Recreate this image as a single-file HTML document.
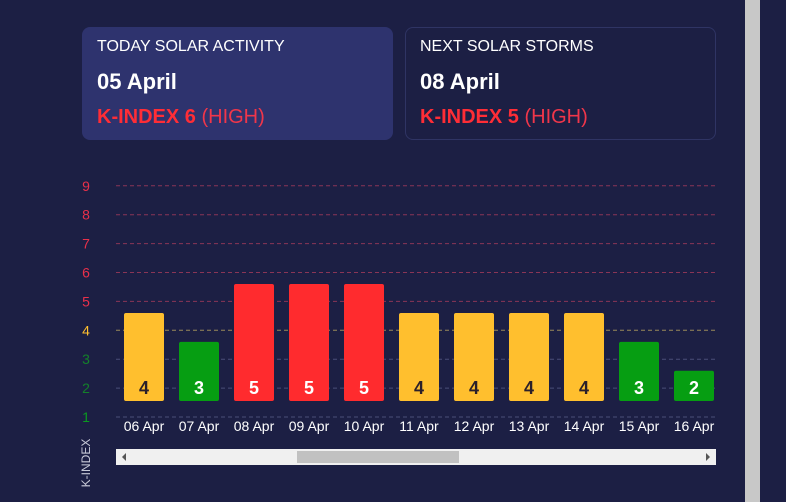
<!DOCTYPE html>
<html><head><meta charset="utf-8"><style>
body{margin:0;width:786px;height:502px;background:#1c1f44;font-family:"Liberation Sans",sans-serif;overflow:hidden;position:relative}
.card{position:absolute;top:27px;height:113px;width:311px;box-sizing:border-box;border-radius:8px;padding:10px 0 0 15px;color:#fff}
.t{font-size:16px;line-height:20px}
.d{font-size:22px;font-weight:bold;margin-top:12px;line-height:26px}
.k{font-size:20px;margin-top:10px;color:#ff2d36;line-height:24px}
.k b{color:#ff2d36}.k span{color:#f0364a}
</style></head><body>
<div class="card" style="left:82px;background:#2e336e">
<div class="t">TODAY SOLAR ACTIVITY</div>
<div class="d">05 April</div>
<div class="k"><b>K-INDEX 6</b> <span>(HIGH)</span></div>
</div>
<div class="card" style="left:405px;border:1px solid #2f3464;padding:9px 0 0 14px">
<div class="t">NEXT SOLAR STORMS</div>
<div class="d">08 April</div>
<div class="k"><b>K-INDEX 5</b> <span>(HIGH)</span></div>
</div>
<svg id="chart" width="786" height="502" style="position:absolute;left:0;top:0" font-family="Liberation Sans, sans-serif"></svg>
<div style="position:absolute;left:745px;top:0;width:15px;height:502px;background:#c8c8c8"></div>
<script>
const categories=["06 Apr","07 Apr","08 Apr","09 Apr","10 Apr","11 Apr","12 Apr","13 Apr","14 Apr","15 Apr","16 Apr"];
const values=[4,3,5,5,5,4,4,4,4,3,2];
const ticks=[1,2,3,4,5,6,7,8,9];
const svg=document.getElementById('chart');
const NS='http://www.w3.org/2000/svg';
function y(v){return 417-(v-1)*28.9;}
function x(i){return 144+i*55;}
function col(v){return v>=5?'#ff2b2e':v==4?'#ffbf2e':'#069e12';}
function mk(t,a){const e=document.createElementNS(NS,t);for(const k in a)e.setAttribute(k,a[k]);svg.appendChild(e);return e;}
ticks.forEach(t=>{
 const gc=t>=5?'#8a3556':t==4?'#9a8a5a':'#4a4f78';
 const g=mk('line',{x1:116,x2:716,y1:y(t),y2:y(t),stroke:gc,'stroke-dasharray':'4,3','stroke-width':1});
 
 
 const lc=t>=5?'#e8304a':t==4?'#ffbf2e':t==1?'#0a9a20':'#13802a';
 const l=mk('text',{x:86,y:y(t)+5,fill:lc,'font-size':14,'text-anchor':'middle'});
 l.textContent=t;
 
 
});
const base=401;
values.forEach((v,i)=>{
 const top=y(v+0.6);
 const r=mk('rect',{x:x(i)-20,y:top,width:40,height:base-top,rx:2,fill:col(v)});
 
 
 const vt=mk('text',{x:x(i),y:394,fill:v==4?'#2a1f2a':'#fff','font-size':18,'font-weight':'bold','text-anchor':'middle'});
 vt.textContent=v;
 
 
 const ct=mk('text',{x:x(i),y:431,fill:'#fff','font-size':14,'text-anchor':'middle'});
 ct.textContent=categories[i];
 
 
});
const at=mk('text',{x:0,y:0,fill:'#c8cad8','font-size':12,'text-anchor':'middle',transform:'translate(90,463) rotate(-90)'});
at.textContent='K-INDEX';


const sb=mk('rect',{x:116,y:449,width:600,height:16,fill:'#f0f0f0'});


const th=mk('rect',{x:297,y:451,width:162,height:12,fill:'#c1c1c1'});


const la=mk('path',{d:'M122 457 L126 453 L126 461 Z',fill:'#555'});


const ra=mk('path',{d:'M710 457 L706 453 L706 461 Z',fill:'#555'});


</script>
</body></html>
